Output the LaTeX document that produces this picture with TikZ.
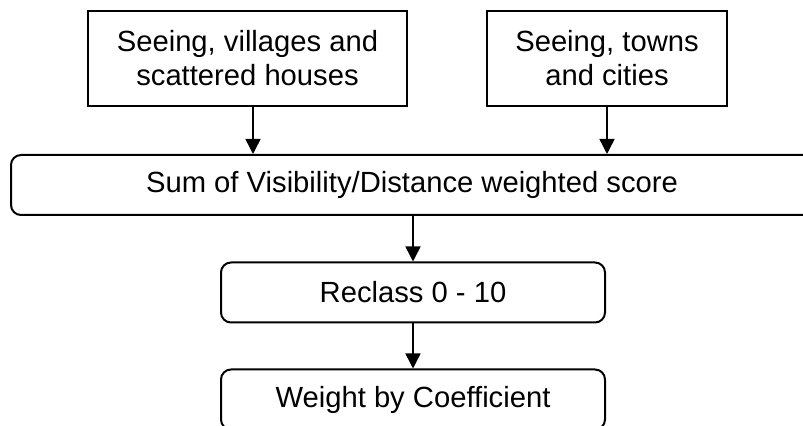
\documentclass[tikz,border=0pt]{standalone}
\usepackage{fontspec}
\setmainfont{Liberation Sans}
\usetikzlibrary{arrows.meta,positioning}

\begin{document}
\begin{tikzpicture}[x=0.5pt, y=-0.5pt, every node/.style={draw, line width=1pt, align=center, inner sep=0pt, font=\fontsize{14.6}{17}\selectfont},
                    sqbox/.style={rectangle, minimum height=47.5pt},
                    rndbox/.style={rectangle, rounded corners=5pt, minimum height=30pt},
                    flow/.style={-{Triangle[length=7.5pt,width=7.5pt]}, line width=0.75pt}]
                \clip (0,0) rectangle (803,426);
                % Source nodes
                \node[sqbox, minimum width=159.5pt] (vil) at (247.5,58.5) {Seeing, villages and\\scattered houses};
                \node[sqbox, minimum width=120pt] (town) at (607,58.5) {Seeing, towns\\and cities};
            
                % Process nodes
                \node[rndbox, minimum width=401pt] (sum) at (412,185) {Sum of Visibility/Distance weighted score};
                \node[rndbox, minimum width=192pt] (recl) at (413,292.5) {Reclass 0 - 10};
                \node[rndbox, minimum width=192pt] (wght) at (413,399.5) {Weight by Coefficient};
            
                % Flow arrows
                \draw[flow] ([xshift=2.75pt]vil.south) -- ([xshift=2.75pt]vil.south |- sum.north);
                \draw[flow] (town.south) -- (town.south |- sum.north);
                \draw[flow] (sum.south -| recl.north) -- (recl.north);
                \draw[flow] (recl) -- (wght);
            \end{tikzpicture}
\end{document}
